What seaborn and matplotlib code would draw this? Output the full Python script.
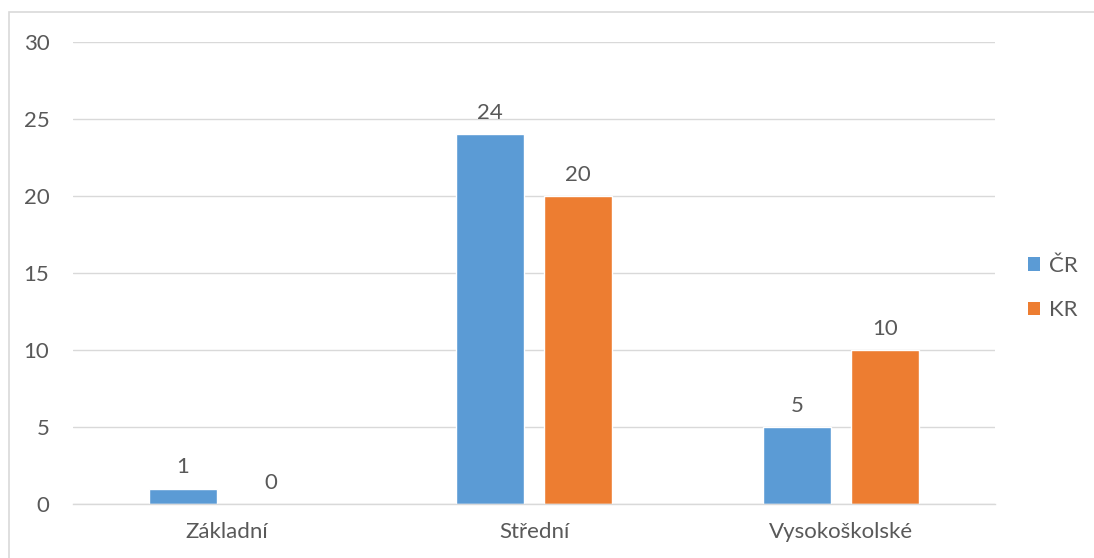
import pandas as pd
import seaborn as sns
import matplotlib.pyplot as plt
from matplotlib.patches import Rectangle, Patch

# Data
categories = ["Základní", "Střední", "Vysokoškolské"]
series = ["ČR", "KR"]
values_cr = [1, 24, 5]
values_kr = [0, 20, 10]
colors = ["#5B9BD5", "#ED7D31"]

df = pd.DataFrame({
    "kategorie": categories * 2,
    "skupina": [series[0]] * 3 + [series[1]] * 3,
    "hodnota": values_cr + values_kr,
})

sns.set_style("white")
plt.rcParams["font.family"] = ["Lato", "DejaVu Sans"]
text_color = "#595959"

fig = plt.figure(figsize=(10.94, 5.58), dpi=100)
ax = fig.add_axes([73 / 1094, 1 - 504 / 558, (995 - 73) / 1094, (504 - 42) / 558])

sns.barplot(data=df, x="kategorie", y="hodnota", hue="skupina",
            palette=colors, width=0.572, gap=0.227, saturation=1,
            ax=ax, legend=False)

for cont in ax.containers:
    ax.bar_label(cont, padding=8, fontsize=16, color=text_color)

ax.set_ylim(0, 30)
ax.set_yticks(range(0, 31, 5))
ax.set_xlim(-0.5, 2.5)
ax.set_xlabel("")
ax.set_ylabel("")
ax.grid(axis="y", color="#D9D9D9", linewidth=1)
ax.set_axisbelow(True)
for s in ["top", "right", "left"]:
    ax.spines[s].set_visible(False)
ax.spines["bottom"].set_color("#D9D9D9")
ax.spines["bottom"].set_linewidth(1)
ax.tick_params(axis="y", length=0, pad=17, labelsize=16, labelcolor=text_color)
ax.tick_params(axis="x", length=0, pad=13, labelsize=16, labelcolor=text_color)

# legend on the right
handles = [Patch(facecolor=c, edgecolor="none") for c in colors]
fig.legend(handles, series, loc="center left", bbox_to_anchor=(1028 / 1094, 1 - 288 / 558),
           frameon=False, fontsize=16, labelcolor=text_color,
           handlelength=0.55, handleheight=0.55, handletextpad=0.4, labelspacing=1.1,
           borderpad=0, borderaxespad=0)

# chart border
fig.patches.append(Rectangle((9 / 1094, -0.01), 1.1, 1 - 12 / 558 + 0.01,
                             transform=fig.transFigure, fill=False,
                             edgecolor="#D9D9D9", linewidth=1.2))

fig.savefig("out.png", dpi=100)
